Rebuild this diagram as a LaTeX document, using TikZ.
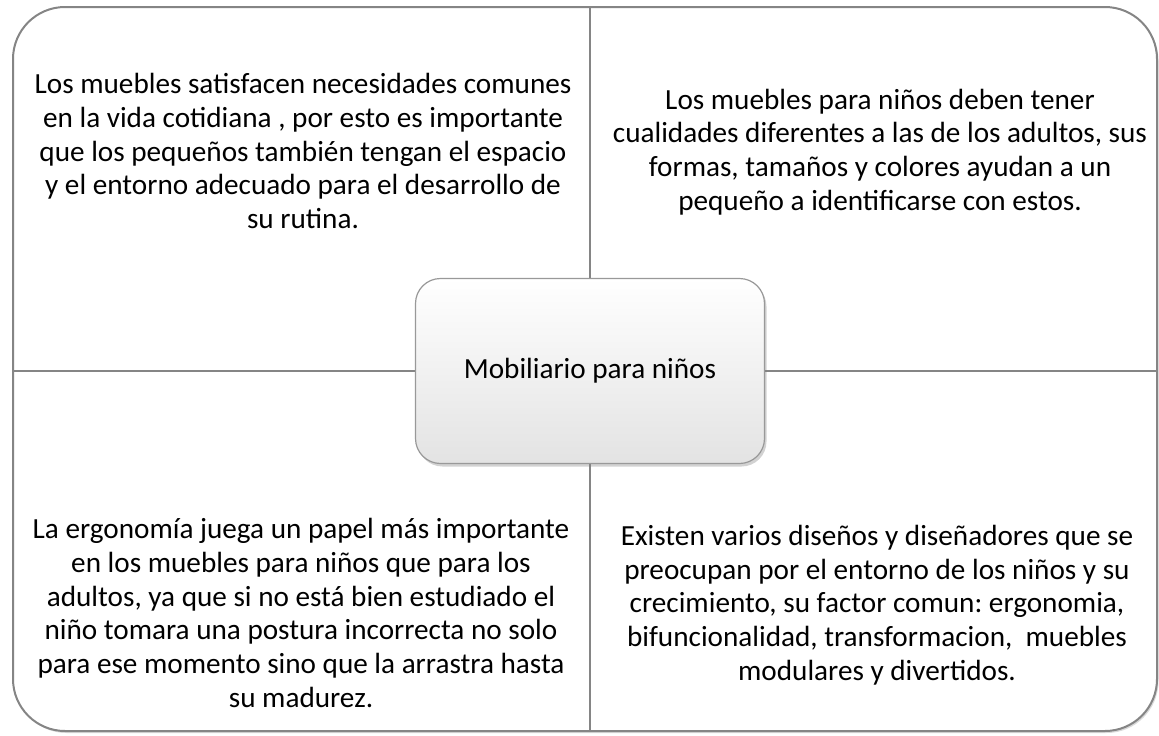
\documentclass[tikz,border=0pt]{standalone}
\usepackage{fontspec}
\setmainfont{Carlito}
\usetikzlibrary{shadows}
\frenchspacing

\tikzset{
  frameline/.style={draw=black!48, line width=2pt},
  celltext/.style={align=center, font=\fontsize{29.2}{33.7}\selectfont},
  hubbox/.style={draw=black!40, line width=1.2pt, rounded corners=25pt,
    top color=white, bottom color=black!11,
    minimum width=349pt, minimum height=185pt,
    font=\fontsize{29.2}{33.7}\selectfont,
    drop shadow={opacity=0.35, shadow xshift=2pt, shadow yshift=-3pt}}
}

\begin{document}
\begin{tikzpicture}[x=1pt, y=-1pt]
    \useasboundingbox (0,0) rectangle (1159,736);

    % frame corners and divider ends
    \coordinate (nw) at (13,7);
    \coordinate (se) at (1157,731);
    \coordinate (top) at (590,7);
    \coordinate (bottom) at (590,731);
    \coordinate (left) at (13,371);
    \coordinate (right) at (1157,371);

    % frame and dividers
    \draw[frameline, fill=white, rounded corners=52pt,
      drop shadow={opacity=0.3, shadow xshift=1.5pt, shadow yshift=-2pt}] (nw) rectangle (se);
    \draw[frameline] (top) -- (bottom);
    \draw[frameline] (left) -- (right);

    % quadrant texts
    \node[celltext] (muebles) at (303,151) {Los muebles satisfacen necesidades comunes\\en la vida cotidiana , por esto es importante\\que los pequeños también tengan el espacio\\y el entorno adecuado para el desarrollo de\\su rutina.};
    \node[celltext] (cualidades) at (880,152) {Los muebles para niños deben tener\\cualidades diferentes a las de los adultos, sus\\formas, tamaños y colores ayudan a un\\pequeño a identificarse con estos.};
    \node[celltext] (ergonomia) at (301,613) {La ergonomía juega un papel más importante\\en los muebles para niños que para los\\adultos, ya que si no está bien estudiado el\\niño tomara una postura incorrecta no solo\\para ese momento sino que la arrastra hasta\\su madurez.};
    \node[celltext] (disenos) at (877,605) {Existen varios diseños y diseñadores que se\\preocupan por el entorno de los niños y su\\crecimiento, su factor comun: ergonomia,\\bifuncionalidad, transformacion,\ \ muebles\\modulares y divertidos.};

    % centre box
    \node[hubbox] (mobiliario) at (590,371) {Mobiliario para niños};

\end{tikzpicture}
\end{document}
